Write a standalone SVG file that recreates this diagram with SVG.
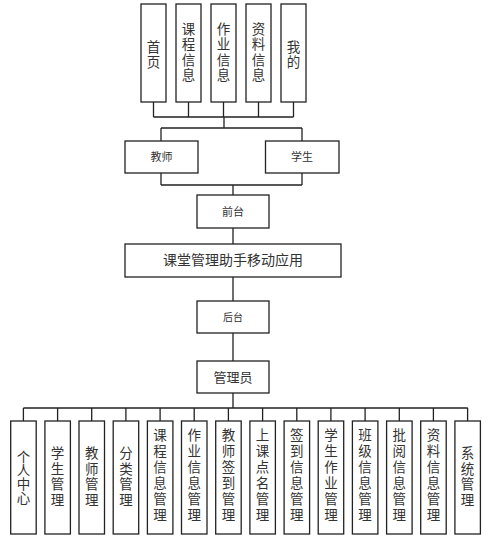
<svg xmlns="http://www.w3.org/2000/svg" width="500" height="537" viewBox="0 0 500 537">
<style>
.b{fill:#fff;stroke:#222;stroke-width:1.3}
.c{fill:none;stroke:#222;stroke-width:1.3}
text{font-family:"Liberation Serif","Noto Sans CJK SC",serif;fill:#333;text-anchor:middle;dominant-baseline:central}
.v{font-size:13.5px}
.s{font-size:11px}
</style>
<rect width="500" height="537" fill="#fff"/>
<g id="connectors">
<path class="c" d="M153.5,102V117M188.5,102V117M223.5,102V117M258.5,102V117M293.5,102V117M153.5,117H293.5M224,117V128M161,128H302M161,128V141M302,128V141"/>
<path class="c" d="M161,173V185M302,173V185M161,185H302M233,185V195M233,228V244M233,277V301M233,333V361M233,393V408"/>
<path class="c" d="M23.4,408H467.8M23.4,408V421M57.6,408V421M91.7,408V421M125.9,408V421M160.1,408V421M194.2,408V421M228.4,408V421M262.6,408V421M296.8,408V421M330.9,408V421M365.1,408V421M399.3,408V421M433.4,408V421M467.6,408V421"/>
</g>
<g id="n_shouye"><rect class="b" x="141" y="4" width="25" height="98"/><text class="v" x="153.5" y="47">首</text><text class="v" x="153.5" y="62">页</text></g>
<g id="n_kecheng"><rect class="b" x="176" y="4" width="25" height="98"/><text class="v" x="188.5" y="29">课</text><text class="v" x="188.5" y="44.5">程</text><text class="v" x="188.5" y="60">信</text><text class="v" x="188.5" y="75.5">息</text></g>
<g id="n_zuoye"><rect class="b" x="211" y="4" width="25" height="98"/><text class="v" x="223.5" y="29">作</text><text class="v" x="223.5" y="44.5">业</text><text class="v" x="223.5" y="60">信</text><text class="v" x="223.5" y="75.5">息</text></g>
<g id="n_ziliao"><rect class="b" x="246" y="4" width="25" height="98"/><text class="v" x="258.5" y="29">资</text><text class="v" x="258.5" y="44.5">料</text><text class="v" x="258.5" y="60">信</text><text class="v" x="258.5" y="75.5">息</text></g>
<g id="n_wode"><rect class="b" x="281" y="4" width="25" height="98"/><text class="v" x="293.5" y="47">我</text><text class="v" x="293.5" y="62">的</text></g>
<g id="n_jiaoshi"><rect class="b" x="125" y="141" width="73" height="32"/><text class="s" x="161.5" y="157">教师</text></g>
<g id="n_xuesheng"><rect class="b" x="265.5" y="141" width="73.5" height="32"/><text class="s" x="302" y="157">学生</text></g>
<g id="n_qiantai"><rect class="b" x="197" y="195" width="72" height="33"/><text class="s" x="233" y="211.5">前台</text></g>
<g id="n_app"><rect class="b" x="125" y="244" width="216" height="33"/><text x="233" y="260.5" font-size="14">课堂管理助手移动应用</text></g>
<g id="n_houtai"><rect class="b" x="197" y="301" width="72" height="32"/><text x="233" y="317" font-size="10">后台</text></g>
<g id="n_admin"><rect class="b" x="197" y="361" width="72" height="32"/><text x="233" y="377" font-size="13">管理员</text></g>
<g id="n_geren"><rect class="b" x="10.7" y="421" width="25.5" height="113"/><text class="v" x="23.4" y="457">个</text><text class="v" x="23.4" y="470.7">人</text><text class="v" x="23.4" y="484.4">中</text><text class="v" x="23.4" y="498">心</text></g>
<g id="n_xsgl"><rect class="b" x="44.9" y="421" width="25.5" height="113"/><text class="v" x="57.6" y="453.5">学</text><text class="v" x="57.6" y="469.2">生</text><text class="v" x="57.6" y="484.9">管</text><text class="v" x="57.6" y="500.5">理</text></g>
<g id="n_jsgl"><rect class="b" x="79" y="421" width="25.5" height="113"/><text class="v" x="91.7" y="453.5">教</text><text class="v" x="91.7" y="469.2">师</text><text class="v" x="91.7" y="484.9">管</text><text class="v" x="91.7" y="500.5">理</text></g>
<g id="n_flgl"><rect class="b" x="113.2" y="421" width="25.5" height="113"/><text class="v" x="125.9" y="453.5">分</text><text class="v" x="125.9" y="469.2">类</text><text class="v" x="125.9" y="484.9">管</text><text class="v" x="125.9" y="500.5">理</text></g>
<g id="n_kcxx"><rect class="b" x="147.4" y="421" width="25.5" height="113"/><text class="v" x="160.1" y="435">课</text><text class="v" x="160.1" y="451">程</text><text class="v" x="160.1" y="467">信</text><text class="v" x="160.1" y="483">息</text><text class="v" x="160.1" y="499">管</text><text class="v" x="160.1" y="515">理</text></g>
<g id="n_zyxx"><rect class="b" x="181.5" y="421" width="25.5" height="113"/><text class="v" x="194.2" y="435">作</text><text class="v" x="194.2" y="451">业</text><text class="v" x="194.2" y="467">信</text><text class="v" x="194.2" y="483">息</text><text class="v" x="194.2" y="499">管</text><text class="v" x="194.2" y="515">理</text></g>
<g id="n_jsqd"><rect class="b" x="215.7" y="421" width="25.5" height="113"/><text class="v" x="228.4" y="435">教</text><text class="v" x="228.4" y="451">师</text><text class="v" x="228.4" y="467">签</text><text class="v" x="228.4" y="483">到</text><text class="v" x="228.4" y="499">管</text><text class="v" x="228.4" y="515">理</text></g>
<g id="n_skdm"><rect class="b" x="249.9" y="421" width="25.5" height="113"/><text class="v" x="262.6" y="435">上</text><text class="v" x="262.6" y="451">课</text><text class="v" x="262.6" y="467">点</text><text class="v" x="262.6" y="483">名</text><text class="v" x="262.6" y="499">管</text><text class="v" x="262.6" y="515">理</text></g>
<g id="n_qdxx"><rect class="b" x="284.1" y="421" width="25.5" height="113"/><text class="v" x="296.8" y="435">签</text><text class="v" x="296.8" y="451">到</text><text class="v" x="296.8" y="467">信</text><text class="v" x="296.8" y="483">息</text><text class="v" x="296.8" y="499">管</text><text class="v" x="296.8" y="515">理</text></g>
<g id="n_xszy"><rect class="b" x="318.2" y="421" width="25.5" height="113"/><text class="v" x="330.9" y="435">学</text><text class="v" x="330.9" y="451">生</text><text class="v" x="330.9" y="467">作</text><text class="v" x="330.9" y="483">业</text><text class="v" x="330.9" y="499">管</text><text class="v" x="330.9" y="515">理</text></g>
<g id="n_bjxx"><rect class="b" x="352.4" y="421" width="25.5" height="113"/><text class="v" x="365.1" y="435">班</text><text class="v" x="365.1" y="451">级</text><text class="v" x="365.1" y="467">信</text><text class="v" x="365.1" y="483">息</text><text class="v" x="365.1" y="499">管</text><text class="v" x="365.1" y="515">理</text></g>
<g id="n_pyxx"><rect class="b" x="386.6" y="421" width="25.5" height="113"/><text class="v" x="399.3" y="435">批</text><text class="v" x="399.3" y="451">阅</text><text class="v" x="399.3" y="467">信</text><text class="v" x="399.3" y="483">息</text><text class="v" x="399.3" y="499">管</text><text class="v" x="399.3" y="515">理</text></g>
<g id="n_zlxx"><rect class="b" x="420.7" y="421" width="25.5" height="113"/><text class="v" x="433.4" y="435">资</text><text class="v" x="433.4" y="451">料</text><text class="v" x="433.4" y="467">信</text><text class="v" x="433.4" y="483">息</text><text class="v" x="433.4" y="499">管</text><text class="v" x="433.4" y="515">理</text></g>
<g id="n_xtgl"><rect class="b" x="454.9" y="421" width="25.5" height="113"/><text class="v" x="467.6" y="453.5">系</text><text class="v" x="467.6" y="469.2">统</text><text class="v" x="467.6" y="484.9">管</text><text class="v" x="467.6" y="500.5">理</text></g>
</svg>
